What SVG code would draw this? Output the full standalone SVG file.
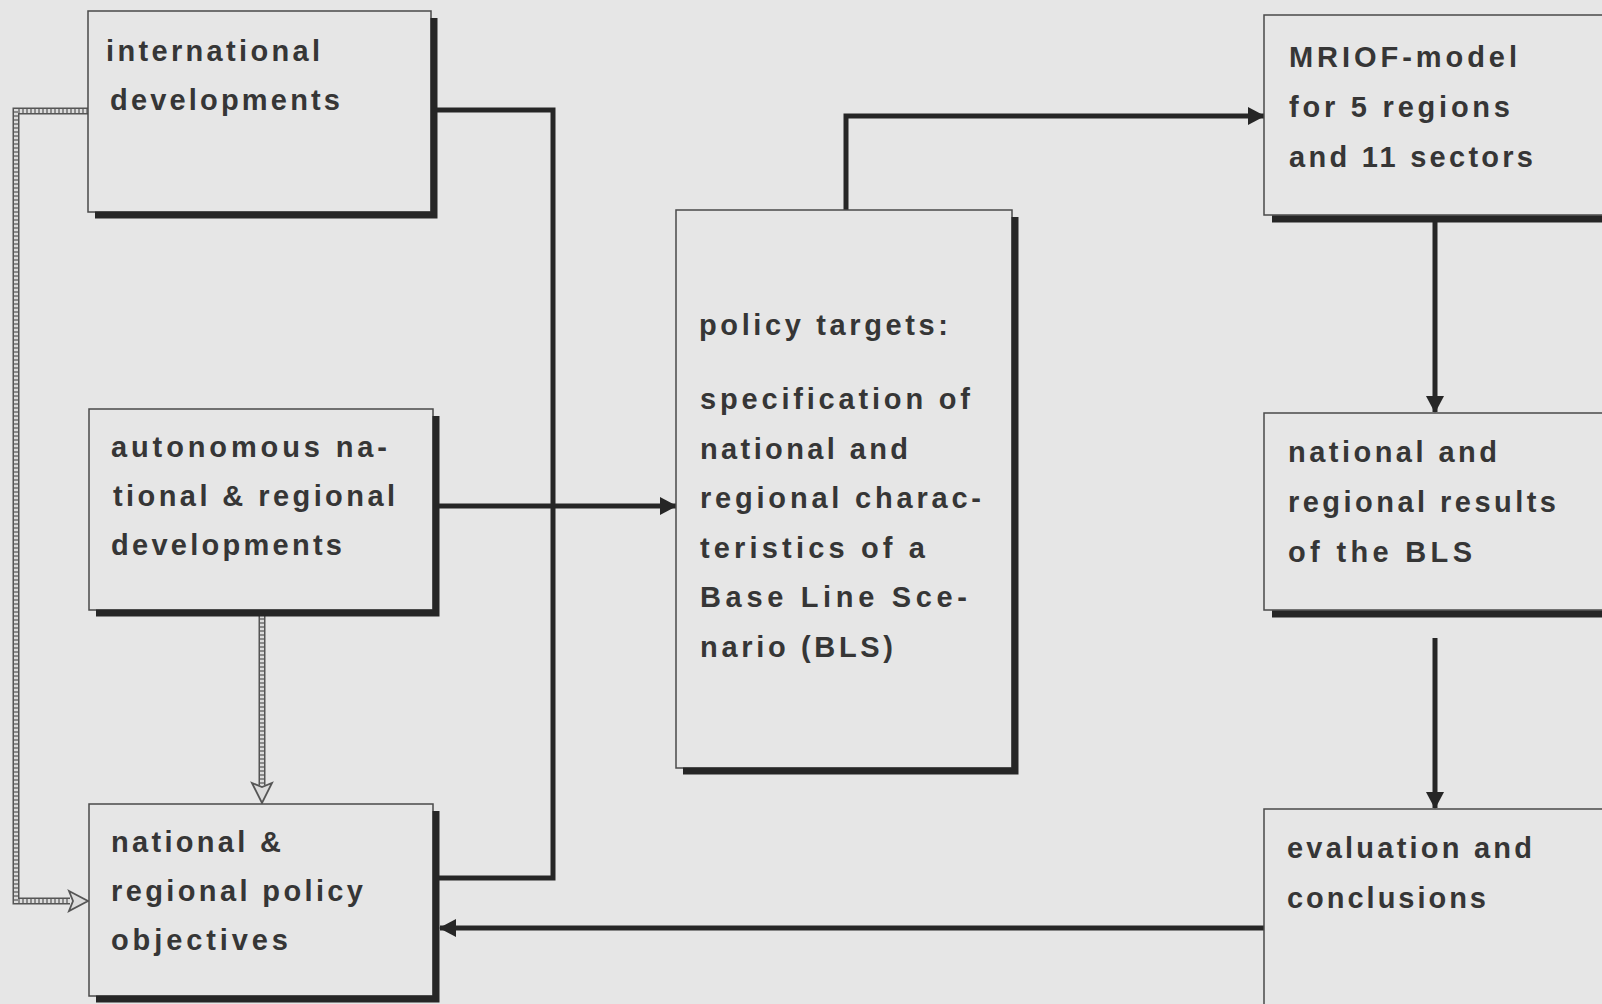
<svg xmlns="http://www.w3.org/2000/svg" width="1602" height="1004" viewBox="0 0 1602 1004">
<style>
.bg{fill:#e6e6e6}
.box{fill:#e6e6e6;stroke:#4a4a4a;stroke-width:1.5}
.sh{fill:none;stroke:#262626;stroke-width:7}
.t{font-family:"Liberation Sans",Arial,sans-serif;font-size:29px;font-weight:bold;fill:#363636}
.thick{fill:none;stroke:#262626;stroke-width:5}
.dblo{fill:none;stroke:#555;stroke-width:7}
.dbli{fill:none;stroke:#dcdcdc;stroke-width:4}
.dblh{fill:none;stroke:#8a8a8a;stroke-width:4;stroke-dasharray:2 2}
.hol{fill:#dcdcdc;stroke:#555;stroke-width:1.8;stroke-linejoin:miter}
</style>
<defs>
<marker id="ar" viewBox="0 0 17 18" refX="16" refY="9" markerWidth="17" markerHeight="18" orient="auto" markerUnits="userSpaceOnUse">
<path d="M0,0 L17,9 L0,18 z" fill="#262626"/>
</marker>
</defs>
<rect class="bg" x="0" y="0" width="1602" height="1004"/>

<g id="connectors">
<path class="dblo" d="M88,111 H16 V901 H70"/>
<path class="dbli" d="M88,111 H16 V901 H70"/>
<path class="dblh" d="M88,111 H16 V901 H70"/>
<path class="hol" d="M69,891 L88,901 L69,911 L73,901 z"/>
<path class="dblo" d="M262,614 V785"/>
<path class="dbli" d="M262,614 V785"/>
<path class="dblh" d="M262,614 V785"/>
<path class="hol" d="M252,783 L262,803 L272,783 L262,787 z"/>
<path class="thick" d="M437,110 H553 V878 H437"/>
<path class="thick" d="M437,506 H676" marker-end="url(#ar)"/>
<path class="thick" d="M846,210 V116 H1264" marker-end="url(#ar)"/>
<path class="thick" d="M1435,222 V412" marker-end="url(#ar)"/>
<path class="thick" d="M1435,638 V808" marker-end="url(#ar)"/>
<path class="thick" d="M1264,928 H440" marker-end="url(#ar)"/>
</g>

<g id="n1">
<rect class="box" x="88" y="11" width="343" height="201"/>
<path class="sh" d="M434,18 V215 H95"/>
<text class="t" x="106" y="61" textLength="214" lengthAdjust="spacing">international</text>
<text class="t" x="110" y="110" textLength="230" lengthAdjust="spacing">developments</text>
</g>

<g id="n2">
<rect class="box" x="89" y="409" width="344" height="201"/>
<path class="sh" d="M436,416 V613 H96"/>
<text class="t" x="111" y="457" textLength="276" lengthAdjust="spacing">autonomous na-</text>
<text class="t" x="113" y="506" textLength="282" lengthAdjust="spacing">tional &amp; regional</text>
<text class="t" x="111" y="555" textLength="231" lengthAdjust="spacing">developments</text>
</g>

<g id="n3">
<rect class="box" x="89" y="804" width="344" height="192"/>
<path class="sh" d="M436,811 V999 H96"/>
<text class="t" x="111" y="852" textLength="170" lengthAdjust="spacing">national &amp;</text>
<text class="t" x="111" y="901" textLength="252" lengthAdjust="spacing">regional policy</text>
<text class="t" x="111" y="950" textLength="177" lengthAdjust="spacing">objectives</text>
</g>

<g id="n4">
<rect class="box" x="676" y="210" width="336" height="558"/>
<path class="sh" d="M1015,217 V771 H683"/>
<text class="t" x="699" y="335" textLength="249" lengthAdjust="spacing">policy targets:</text>
<text class="t" x="700" y="409" textLength="270" lengthAdjust="spacing">specification of</text>
<text class="t" x="700" y="459" textLength="208" lengthAdjust="spacing">national and</text>
<text class="t" x="700" y="508" textLength="281" lengthAdjust="spacing">regional charac-</text>
<text class="t" x="700" y="558" textLength="225" lengthAdjust="spacing">teristics of a</text>
<text class="t" x="700" y="607" textLength="267" lengthAdjust="spacing">Base Line Sce-</text>
<text class="t" x="700" y="657" textLength="193" lengthAdjust="spacing">nario (BLS)</text>
</g>

<g id="n5">
<rect class="box" x="1264" y="15" width="346" height="200"/>
<path class="sh" d="M1272,219 H1610"/>
<text class="t" x="1289" y="67" textLength="228" lengthAdjust="spacing">MRIOF-model</text>
<text class="t" x="1289" y="117" textLength="221" lengthAdjust="spacing">for 5 regions</text>
<text class="t" x="1289" y="167" textLength="244" lengthAdjust="spacing">and 11 sectors</text>
</g>

<g id="n6">
<rect class="box" x="1264" y="413" width="346" height="197"/>
<path class="sh" d="M1272,614 H1610"/>
<text class="t" x="1288" y="462" textLength="209" lengthAdjust="spacing">national and</text>
<text class="t" x="1288" y="512" textLength="268" lengthAdjust="spacing">regional results</text>
<text class="t" x="1288" y="562" textLength="184" lengthAdjust="spacing">of the BLS</text>
</g>

<g id="n7">
<rect class="box" x="1264" y="809" width="346" height="200"/>
<text class="t" x="1287" y="858" textLength="245" lengthAdjust="spacing">evaluation and</text>
<text class="t" x="1287" y="908" textLength="199" lengthAdjust="spacing">conclusions</text>
</g>
</svg>
